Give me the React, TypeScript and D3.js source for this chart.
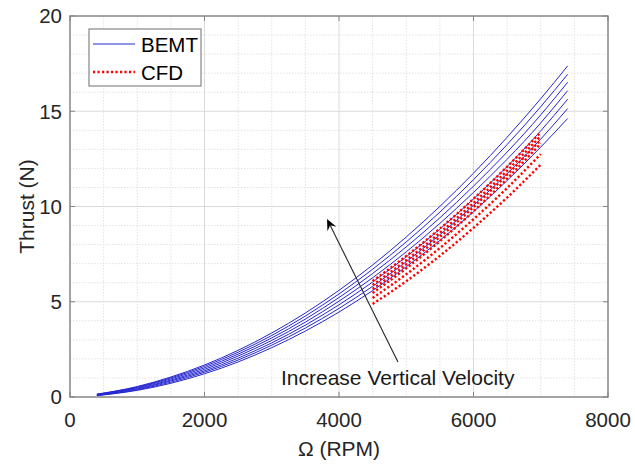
import React from "react";
import * as d3 from "d3";

// ---- data ----
const bemtRpm = [400, 1000, 1500, 2000, 2500, 3000, 4000, 5000, 6000, 7000, 7400];
const bemt1 = [0.15, 0.55, 1.05, 1.68, 2.45, 3.36, 5.6, 8.4, 11.75, 15.66, 17.38];
const bemt2 = [0.14, 0.52, 1.0, 1.61, 2.35, 3.23, 5.41, 8.14, 11.41, 15.24, 16.94];
const bemt3 = [0.13, 0.49, 0.95, 1.53, 2.25, 3.1, 5.22, 7.88, 11.07, 14.81, 16.52];
const bemt4 = [0.11, 0.45, 0.89, 1.45, 2.15, 2.97, 5.03, 7.62, 10.74, 14.39, 16.08];
const bemt5 = [0.1, 0.42, 0.84, 1.37, 2.04, 2.84, 4.84, 7.36, 10.4, 13.97, 15.63];
const bemt6 = [0.08, 0.38, 0.78, 1.3, 1.94, 2.72, 4.65, 7.1, 10.06, 13.54, 15.14];
const bemt7 = [0.07, 0.35, 0.72, 1.22, 1.84, 2.59, 4.46, 6.84, 9.73, 13.12, 14.62];
const bemtSeries = [bemt1, bemt2, bemt3, bemt4, bemt5, bemt6, bemt7];

const cfdRpm = [4500, 5000, 5500, 6000, 6500, 7000];
const cfd1 = [6.09, 7.4, 8.84, 10.4, 12.09, 13.9];
const cfd2 = [5.88, 7.18, 8.62, 10.18, 11.88, 13.7];
const cfd3 = [5.67, 6.97, 8.4, 9.97, 11.67, 13.5];
const cfd4 = [5.46, 6.75, 8.18, 9.75, 11.46, 13.3];
const cfd5 = [5.2, 6.44, 7.82, 9.33, 10.97, 12.75];
const cfd6 = [4.88, 6.08, 7.41, 8.88, 10.47, 12.2];
const cfdSeries = [cfd1, cfd2, cfd3, cfd4, cfd5, cfd6];

const xTicks = [0, 2000, 4000, 6000, 8000];
const yTicks = [0, 5, 10, 15, 20];
const legendLabels = ["BEMT", "CFD"];
const annotationText = "Increase Vertical Velocity";
const arrowTail = [4877, 1.84];
const arrowTip = [3822, 9.34];

const W = 635;
const H = 464;
const left = 70;
const right = 608;
const top = 16;
const bottom = 397;

export default function App() {
  const x = d3.scaleLinear().domain([0, 8000]).range([left, right]);
  const y = d3.scaleLinear().domain([0, 20]).range([bottom, top]);

  const line = d3
    .line<[number, number]>()
    .x((d) => x(d[0]))
    .y((d) => y(d[1]))
    .curve(d3.curveMonotoneX);

  const xMinor = d3.range(0, 8001, 500).filter((v) => v % 2000 !== 0);
  const yMinor = d3.range(0, 21, 1).filter((v) => v % 5 !== 0);

  const font = "Liberation Sans, Arial, sans-serif";

  const tx = x(arrowTail[0]);
  const ty = y(arrowTail[1]);
  const hx = x(arrowTip[0]);
  const hy = y(arrowTip[1]);
  const ang = Math.atan2(hy - ty, hx - tx);
  const c = Math.cos(ang);
  const s = Math.sin(ang);
  const hl = 11;
  const hw = 5;
  const notch = 4;
  const bx = hx - hl * c;
  const by = hy - hl * s;
  const nx = hx - (hl - notch) * c;
  const ny = hy - (hl - notch) * s;
  const head = [
    [hx, hy],
    [bx + hw * s, by - hw * c],
    [nx, ny],
    [bx - hw * s, by + hw * c],
  ];

  return (
    <svg width={W} height={H} style={{ position: "absolute", left: 0, top: 0, background: "#fff" }}>
      <rect x={0} y={0} width={W} height={H} fill="#fff" />
      {/* minor grid */}
      {xMinor.map((v) => (
        <line key={"xm" + v} x1={x(v)} x2={x(v)} y1={top} y2={bottom} stroke="#e2e2e2" strokeWidth={1} strokeDasharray="1.5 1.5" />
      ))}
      {yMinor.map((v) => (
        <line key={"ym" + v} x1={left} x2={right} y1={y(v)} y2={y(v)} stroke="#e2e2e2" strokeWidth={1} strokeDasharray="1.5 1.5" />
      ))}
      {/* major grid */}
      {xTicks.map((v) => (
        <line key={"xg" + v} x1={x(v)} x2={x(v)} y1={top} y2={bottom} stroke="#dadada" strokeWidth={1} />
      ))}
      {yTicks.map((v) => (
        <line key={"yg" + v} x1={left} x2={right} y1={y(v)} y2={y(v)} stroke="#dadada" strokeWidth={1} />
      ))}

      {/* BEMT */}
      {bemtSeries.map((sr, i) => (
        <path
          key={"b" + i}
          d={line(bemtRpm.map((r, j) => [r, sr[j]] as [number, number])) || ""}
          fill="none"
          stroke="#2626d0"
          strokeWidth={1}
        />
      ))}
      {/* CFD */}
      {cfdSeries.map((sr, i) => (
        <path
          key={"c" + i}
          d={line(cfdRpm.map((r, j) => [r, sr[j]] as [number, number])) || ""}
          fill="none"
          stroke="#ff0000"
          strokeWidth={2.4}
          strokeDasharray="2.2 2.3"
        />
      ))}

      {/* frame */}
      <rect x={left} y={top} width={right - left} height={bottom - top} fill="none" stroke="#858585" strokeWidth={1.4} />
      {/* ticks */}
      {xTicks.map((v) => (
        <g key={"xt" + v}>
          <line x1={x(v)} x2={x(v)} y1={bottom} y2={bottom - 5} stroke="#858585" strokeWidth={1} />
          <line x1={x(v)} x2={x(v)} y1={top} y2={top + 5} stroke="#858585" strokeWidth={1} />
          <text x={x(v)} y={427} textAnchor="middle" fontFamily={font} fontSize={20.5} fill="#262626">
            {v}
          </text>
        </g>
      ))}
      {yTicks.map((v) => (
        <g key={"yt" + v}>
          <line x1={left} x2={left + 5} y1={y(v)} y2={y(v)} stroke="#858585" strokeWidth={1} />
          <line x1={right} x2={right - 5} y1={y(v)} y2={y(v)} stroke="#858585" strokeWidth={1} />
          <text x={62} y={y(v) + 7.3} textAnchor="end" fontFamily={font} fontSize={20.5} fill="#262626">
            {v}
          </text>
        </g>
      ))}

      {/* axis labels */}
      <text x={(left + right) / 2} y={456} textAnchor="middle" fontFamily={font} fontSize={21} fill="#262626">
        {"\u03A9 (RPM)"}
      </text>
      <text
        transform={`translate(34, ${(top + bottom) / 2}) rotate(-90)`}
        textAnchor="middle"
        fontFamily={font}
        fontSize={21}
        fill="#262626"
      >
        Thrust (N)
      </text>

      {/* legend */}
      <rect x={89} y={29} width={112} height={57} fill="#fff" stroke="#858585" strokeWidth={1.2} />
      <line x1={93} x2={135} y1={44} y2={44} stroke="#2626d0" strokeWidth={1} />
      <text x={141} y={51.5} fontFamily={font} fontSize={20.5} fill="#000">
        {legendLabels[0]}
      </text>
      <line x1={93} x2={135} y1={72} y2={72} stroke="#ff0000" strokeWidth={2.4} strokeDasharray="2.2 2.3" />
      <text x={141} y={79.5} fontFamily={font} fontSize={20.5} fill="#000">
        {legendLabels[1]}
      </text>

      {/* arrow annotation */}
      <line x1={tx} y1={ty} x2={nx} y2={ny} stroke="#262626" strokeWidth={1.1} />
      <polygon points={head.map((p) => p.join(",")).join(" ")} fill="#000" />
      <text x={281} y={385} fontFamily={font} fontSize={21} fill="#1a1a1a">
        {annotationText}
      </text>
    </svg>
  );
}
